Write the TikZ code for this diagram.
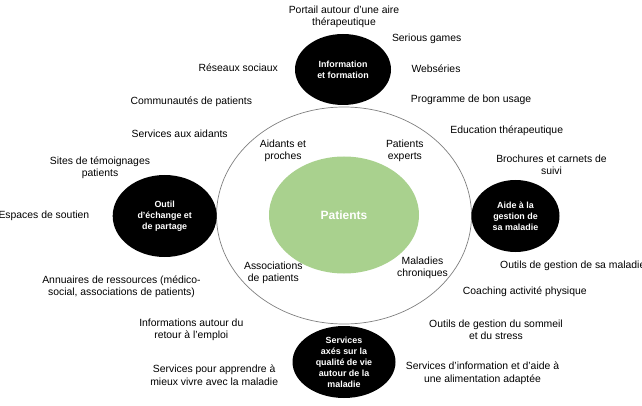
\documentclass[tikz,border=0pt]{standalone}
\usepackage{fontspec}
\setmainfont{Liberation Sans}
\usetikzlibrary{shapes.geometric}
\definecolor{ringgray}{HTML}{7F7F7F}
\definecolor{patgreen}{HTML}{A9D18E}
\begin{document}
\begin{tikzpicture}[x=1pt,y=-1pt,
  txt/.style={font=\fontsize{10.4}{12.3}\selectfont, align=center, inner sep=0pt, text=black},
  blk/.style={ellipse, fill=black, inner sep=0pt, text=white, align=center,
    font=\fontsize{8.9}{11}\selectfont\bfseries},
  ring/.style={ellipse, draw=ringgray, line width=0.7pt, inner sep=0pt}]
\useasboundingbox (0,0) rectangle (642,406);
% central ellipses
\node[ring, minimum width=255, minimum height=217] (ring) at (344,215.5) {};
\node[ellipse, fill=patgreen, inner sep=0pt, minimum width=150, minimum height=117,
  text=white, font=\fontsize{12}{14}\selectfont\bfseries] (pat) at (344,215) {Patients};
% black ellipses
\node[blk, minimum width=96, minimum height=71] (info) at (343,69.5) {Information\\et formation};
\node[blk, minimum width=104, minimum height=82] (outil) at (164.7,216) {Outil\\d’échange et\\de partage};
\node[blk, minimum width=88, minimum height=72] (aide) at (515.5,216) {Aide à la\\gestion de\\sa maladie};
\node[blk, minimum width=103, minimum height=72] (serv) at (344,362) {Services\\axés sur la\\qualité de vie\\autour de la\\maladie};
% inner labels
\node[txt] (aidants) at (283,150.5) {Aidants et\\proches};
\node[txt] (experts) at (404.8,150.5) {Patients\\experts};
\node[txt] (assoc) at (273.3,273) {Associations\\de patients};
\node[txt] (malad) at (422.5,267.5) {Maladies\\chroniques};
% outer labels
\node[txt] (portail) at (344,17) {Portail autour d’une aire\\thérapeutique};
\node[txt] (serious) at (426.7,39) {Serious games};
\node[txt] (web) at (436,69) {Webséries};
\node[txt] (prog) at (471,100) {Programme de bon usage};
\node[txt] (educ) at (506.7,131) {Education thérapeutique};
\node[txt] (broch) at (551.5,164.5) {Brochures et carnets de\\suivi};
\node[txt] (reseaux) at (238.3,68) {Réseaux sociaux};
\node[txt] (commu) at (191.3,101.7) {Communautés de patients};
\node[txt] (aidsrv) at (179.7,134) {Services aux aidants};
\node[txt] (sites) at (100,167.5) {Sites de témoignages\\patients};
\node[txt, anchor=east] (espaces) at (89.5,215.7) {Espaces de soutien};
\node[txt] (annu) at (121.5,287) {Annuaires de ressources (médico-\\social, associations de patients)};
\node[txt] (emploi) at (191.3,329.5) {Informations autour du\\retour à l’emploi};
\node[txt] (mieux) at (214.2,375.3) {Services pour apprendre à\\mieux vivre  avec la maladie};
\node[txt, anchor=west] (outils) at (500,265.7) {Outils de gestion de sa maladie};
\node[txt] (coach) at (524.8,292) {Coaching activité physique};
\node[txt] (sommeil) at (496,329.5) {Outils de gestion du sommeil\\et du stress};
\node[txt] (alim) at (482.5,373.3) {Services d’information et d’aide à\\une alimentation adaptée};
\end{tikzpicture}
\end{document}
